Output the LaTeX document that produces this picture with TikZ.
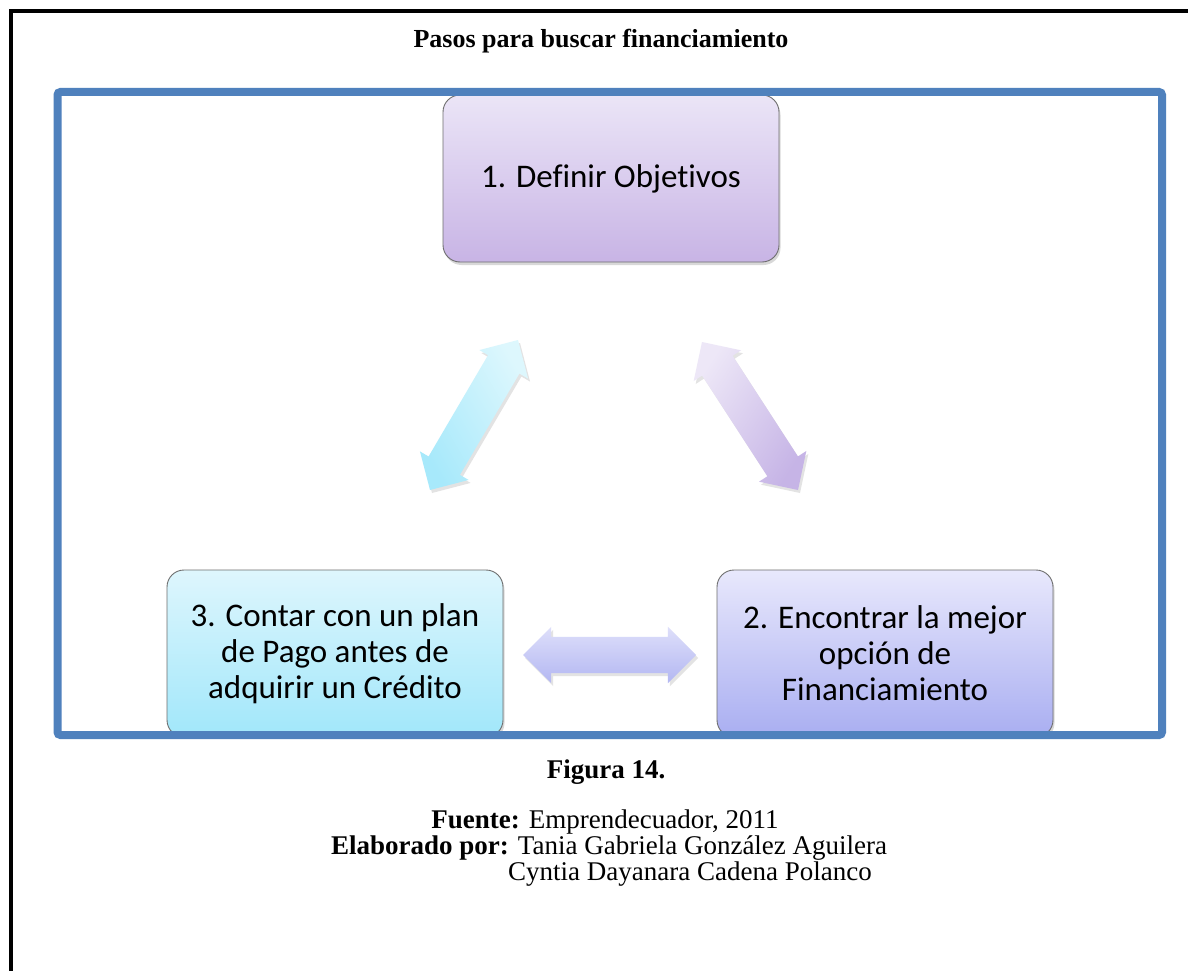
\documentclass[tikz,border=0pt]{standalone}
\usepackage{fontspec}
\setmainfont[Ligatures=NoCommon]{Liberation Serif}
\newfontfamily\boxfont[Ligatures=NoCommon]{Carlito}
\usetikzlibrary{shapes.arrows,shadows,calc}
\definecolor{framebl}{HTML}{4F81BD}
\definecolor{boxline}{HTML}{6E6E6E}
\definecolor{pTop}{HTML}{EBE5F7}\definecolor{pBot}{HTML}{C8B4E5}
\definecolor{cTop}{HTML}{DEF6FD}\definecolor{cBot}{HTML}{A1E7FA}
\definecolor{vTop}{HTML}{E8E8FC}\definecolor{vBot}{HTML}{A9AEF1}
\definecolor{acTop}{HTML}{DDF7FD}\definecolor{acBot}{HTML}{A7E9FB}
\definecolor{apTop}{HTML}{EDE7F7}\definecolor{apBot}{HTML}{C6B4E6}
\definecolor{avTop}{HTML}{DEDFFA}\definecolor{avBot}{HTML}{B3B7F2}
\begin{document}
\begin{tikzpicture}[x=1pt,y=-1pt,
  stepbox/.style={rectangle, rounded corners=17pt, draw=boxline, line width=0.9pt,
    minimum width=336pt, minimum height=167pt, inner sep=0pt, align=center,
    font=\boxfont\fontsize{33}{36}\selectfont,
    drop shadow={opacity=0.3, shadow xshift=1.5pt, shadow yshift=-3pt}},
  blockarrow/.style={double arrow, draw=none, inner xsep=0pt, inner ysep=18pt,
    minimum width=56pt, double arrow head extend=10pt,
    drop shadow={opacity=0.22, shadow xshift=2pt, shadow yshift=-3pt}},
  serif/.style={font=\fontsize{27}{27}\selectfont, inner sep=0pt, anchor=base}]
\useasboundingbox (0,0) rectangle (1188,971);
\fill[white] (0,0) rectangle (1188,971);
% outer black frame
\draw[line width=4pt] (11,971) -- (11,11) -- (1188,11);
% title
\node[serif, font=\fontsize{26}{26}\selectfont] (title) at (601,48) {\textbf{Pasos para buscar financiamiento}};
% step boxes
\node[stepbox, top color=pTop, bottom color=pBot] (s1) at (611,178.5) {1. Definir Objetivos};
\begin{scope}
\clip (0,0) rectangle (1188,735);
\node[stepbox, top color=cTop, bottom color=cBot] (s3) at (335,653.5)
  {3. Contar con un plan\\de Pago antes de\\adquirir un Crédito};
\node[stepbox, top color=vTop, bottom color=vBot] (s2) at (885,653.5)
  {2. Encontrar la mejor\\opción de\\Financiamiento};
\end{scope}
% arrow end points
\coordinate (l1) at (430,490); \coordinate (l2) at (518,340);
\coordinate (r1) at (702,342); \coordinate (r2) at (798,490);
\coordinate (h1) at (523,655); \coordinate (h2) at (696,655);
\path let \p1=($(l2)-(l1)$), \n1={atan2(\y1,\x1)}, \n2={veclen(\x1,\y1)} in
  node[blockarrow, rotate=\n1, minimum height=\n2, top color=acTop, bottom color=acBot,
       shading angle=-\n1] (al) at ($(l1)!0.5!(l2)$) {};
\path let \p1=($(r2)-(r1)$), \n1={atan2(\y1,\x1)}, \n2={veclen(\x1,\y1)} in
  node[blockarrow, rotate=\n1, minimum height=\n2, top color=apTop, bottom color=apBot,
       shading angle=-\n1] (ar) at ($(r1)!0.5!(r2)$) {};
\path let \p1=($(h2)-(h1)$), \n2={veclen(\x1,\y1)} in
  node[blockarrow, minimum height=\n2, top color=avTop, bottom color=avBot] (ah) at ($(h1)!0.5!(h2)$) {};
% blue frame
\draw[framebl, line width=8pt, rounded corners=3pt] (57.5,92) rectangle (1162,735);
% captions
\node[serif] (fig) at (606,778) {\textbf{Figura 14.}};
\node[serif] (fuente) at (605,828) {\textbf{Fuente:} Emprendecuador, 2011};
\node[serif, anchor=base west] (elab) at (331,854) {\textbf{Elaborado por:} Tania Gabriela González Aguilera};
\node[serif, anchor=base west] (auth2) at (508,880) {Cyntia Dayanara Cadena Polanco};
\end{tikzpicture}
\end{document}
